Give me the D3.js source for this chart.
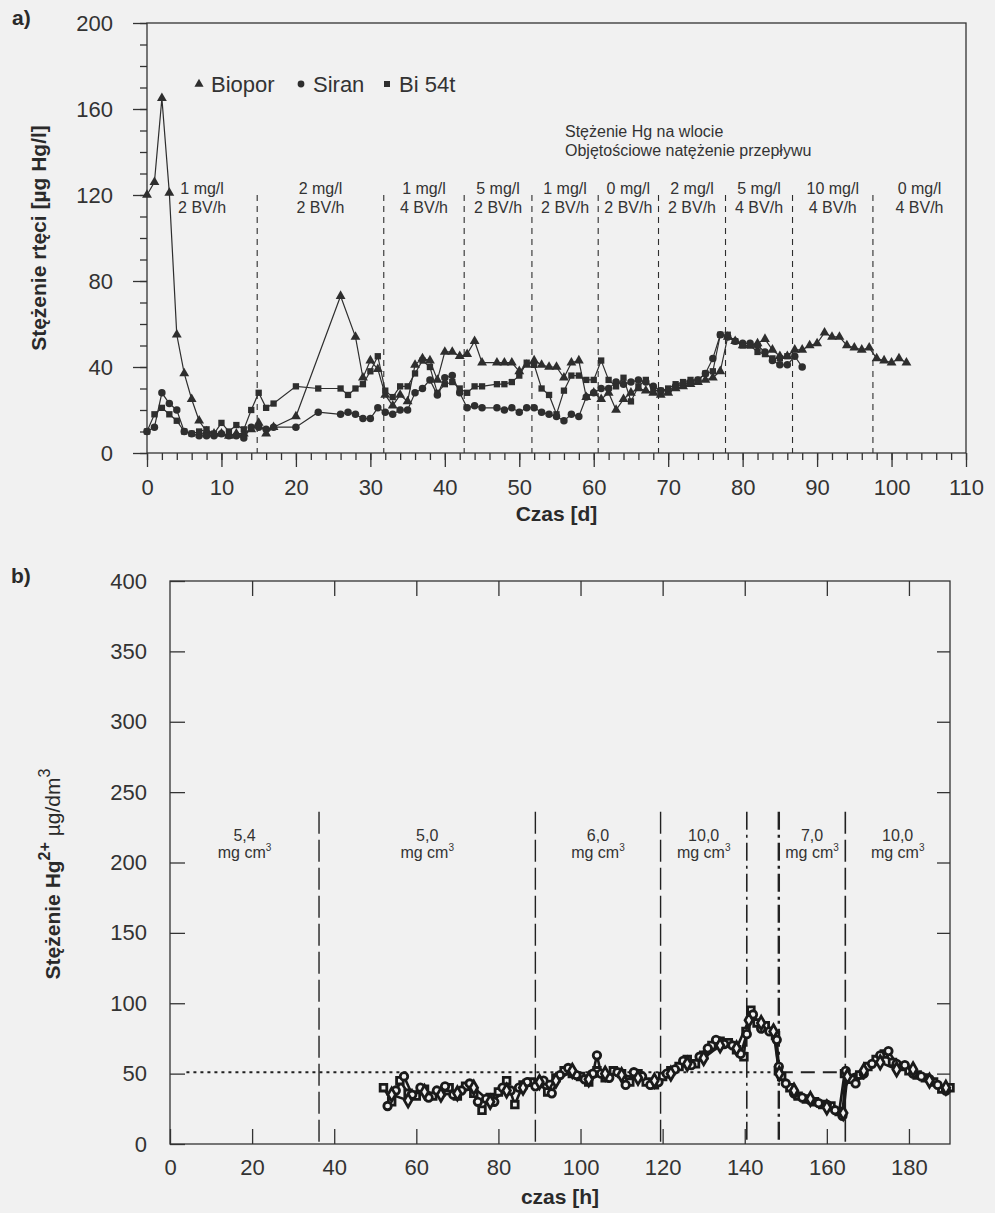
<!DOCTYPE html>
<html>
<head>
<meta charset="utf-8">
<script src="https://cdn.jsdelivr.net/npm/d3@7/dist/d3.min.js"></script>
<style>
  body { margin: 0; background: #f1f1f1; }
  svg { display: block; font-family: 'Liberation Sans', Arial, sans-serif; }
  .axis text { font-size: 22px; fill: #333; }
  .axis line { stroke: #333; stroke-width: 1.3; }
  .axis path { display: none; }
  .frame { fill: none; stroke: #333; stroke-width: 1.3; }
  .title { font-size: 21px; font-weight: bold; fill: #2a2a2a; }
  .note { font-size: 16px; fill: #333; }
</style>
</head>
<body>
<svg id="chart" width="995" height="1213"></svg>
<script>
// Panel a: day, Hg concentration [ug/l]
const bioporData = [
  [0, 120], [1, 126], [2, 165], [3, 121], [4, 55], [5, 37], [6, 25], [7, 15], [8, 10], [9, 9],
  [10, 9], [11, 8], [12, 9], [13, 9], [14, 11], [15, 14], [16, 9], [17, 12], [20, 17], [26, 73],
  [28, 54], [29, 35], [30, 43], [31, 39], [32, 27], [33, 22], [34, 27], [35, 24], [36, 41], [37, 44],
  [38, 43], [39, 34], [40, 47], [41, 47], [42, 45], [43, 46], [44, 52], [45, 42], [47, 42], [48, 42],
  [49, 42], [50, 38], [51, 41], [52, 43], [53, 41], [54, 40], [55, 40], [56, 35], [57, 42], [58, 43],
  [59, 26], [60, 28], [61, 25], [62, 28], [63, 20], [64, 25], [65, 28], [66, 30], [67, 29], [68, 28],
  [69, 27], [70, 28], [71, 30], [72, 31], [73, 32], [74, 33], [75, 34], [76, 35], [77, 38], [78, 54],
  [79, 52], [80, 50], [81, 50], [82, 51], [83, 53], [84, 48], [85, 45], [86, 45], [87, 48], [88, 48],
  [89, 50], [90, 51], [91, 56], [92, 54], [93, 54], [94, 50], [95, 49], [96, 48], [97, 49], [98, 44],
  [99, 43], [100, 42], [101, 44], [102, 42],
];
const siranData = [
  [0, 10], [1, 12], [2, 28], [3, 23], [4, 20], [5, 10], [6, 9], [7, 8], [8, 8], [9, 8],
  [10, 9], [11, 8], [12, 8], [13, 7], [14, 12], [15, 12], [16, 11], [17, 12], [20, 12], [23, 19],
  [26, 18], [27, 19], [28, 18], [29, 16], [30, 16], [31, 21], [32, 19], [33, 18], [34, 20], [35, 20],
  [36, 28], [37, 30], [38, 34], [39, 27], [40, 35], [41, 36], [42, 28], [43, 21], [44, 22], [45, 21],
  [47, 21], [48, 20], [49, 21], [50, 19], [51, 21], [52, 21], [53, 19], [54, 18], [55, 17], [56, 15],
  [57, 18], [58, 17], [59, 26], [60, 28], [61, 30], [62, 30], [63, 33], [64, 32], [65, 33], [66, 34],
  [67, 33], [68, 31], [69, 29], [70, 29], [71, 31], [72, 32], [73, 33], [74, 34], [75, 37], [76, 44],
  [77, 55], [78, 54], [79, 52], [80, 51], [81, 51], [82, 50], [83, 47], [84, 43], [85, 41], [86, 41],
  [87, 45], [88, 40],
];
const bi54tData = [
  [0, 10], [1, 18], [2, 21], [3, 18], [4, 15], [5, 10], [6, 9], [7, 10], [8, 11], [9, 9],
  [10, 14], [11, 10], [12, 13], [13, 11], [14, 20], [15, 28], [16, 21], [17, 23], [20, 31], [23, 30],
  [26, 30], [27, 27], [28, 30], [29, 32], [30, 38], [31, 45], [32, 29], [33, 26], [34, 31], [35, 31],
  [36, 37], [37, 43], [38, 40], [39, 28], [40, 32], [41, 33], [42, 30], [43, 28], [44, 31], [45, 31],
  [47, 32], [48, 32], [49, 33], [50, 36], [51, 42], [52, 41], [53, 30], [54, 27], [55, 18], [56, 29],
  [57, 36], [58, 36], [59, 34], [60, 34], [61, 43], [62, 34], [63, 31], [64, 35], [65, 24], [66, 31],
  [67, 34], [68, 29], [69, 29], [70, 30], [71, 32], [72, 33], [73, 34], [74, 34], [75, 37], [76, 38],
  [77, 55], [78, 55], [79, 52], [80, 50], [81, 50], [82, 47], [83, 46], [84, 44], [85, 44], [86, 45],
];
const legendA = ['Biopor', 'Siran', 'Bi 54t'];
const phaseBreaksA = [14.8, 31.8, 42.6, 51.7, 60.6, 68.7, 77.7, 86.7, 97.5];
const phaseLabelsA = [
  ['1 mg/l', '2 BV/h'], ['2 mg/l', '2 BV/h'], ['1 mg/l', '4 BV/h'], ['5 mg/l', '2 BV/h'],
  ['1 mg/l', '2 BV/h'], ['0 mg/l', '2 BV/h'], ['2 mg/l', '2 BV/h'], ['5 mg/l', '4 BV/h'],
  ['10 mg/l', '4 BV/h'], ['0 mg/l', '4 BV/h'],
];
const noteA = ['Stężenie Hg na wlocie', 'Objętościowe natężenie przepływu'];

// Panel b: hour, Hg2+ concentration [ug/dm3]
const squaresB = [
  [52, 40], [54, 30], [56, 45], [58, 36], [60, 34], [62, 39], [64, 34], [66, 37], [68, 40], [70, 34],
  [72, 41], [74, 36], [76, 24], [78, 33], [80, 37], [82, 45], [84, 28], [86, 42], [88, 44], [90, 43],
  [92, 37], [94, 47], [96, 52], [98, 50], [100, 48], [102, 44], [104, 52], [106, 47], [108, 52], [110, 50],
  [112, 44], [114, 50], [116, 44], [118, 42], [120, 48], [122, 52], [124, 55], [126, 60], [128, 57], [130, 63],
  [132, 70], [134, 73], [136, 72], [138, 67], [139.8, 62], [140.3, 80], [141.5, 95], [143, 86], [145, 84], [147.5, 77],
  [148.2, 52], [149, 48], [151, 40], [153, 34], [155, 32], [157, 30], [159, 28], [161, 27], [163, 23], [164.3, 50],
  [166, 46], [168, 49], [170, 55], [172, 60], [174, 64], [176, 58], [178, 55], [180, 52], [182, 49], [184, 47],
  [186, 44], [188, 39], [190, 40],
];
const circlesB = [
  [53, 27], [55, 38], [57, 48], [59, 35], [61, 40], [63, 33], [65, 38], [67, 41], [69, 35], [71, 38],
  [73, 43], [75, 30], [77, 32], [79, 30], [81, 40], [83, 38], [85, 40], [87, 44], [89, 41], [91, 45],
  [93, 36], [95, 49], [97, 54], [99, 49], [101, 46], [103, 50], [104, 63], [105, 50], [107, 47], [109, 51],
  [111, 42], [113, 51], [115, 48], [117, 42], [119, 44], [121, 50], [123, 53], [125, 59], [127, 56], [129, 62],
  [131, 68], [133, 74], [135, 71], [137, 70], [139, 64], [140.5, 78], [142, 92], [144, 82], [146, 80], [147.8, 74],
  [148.3, 55], [150, 43], [152, 36], [154, 33], [156, 31], [158, 29], [160, 28], [162, 24], [163.8, 20], [164.6, 52],
  [167, 43], [169, 50], [171, 57], [173, 63], [175, 66], [177, 57], [179, 56], [181, 50], [183, 48], [185, 46],
  [187, 42], [189, 38],
];
const diamondsB = [
  [54, 35], [58, 31], [62, 37], [66, 35], [70, 36], [74, 40], [78, 30], [82, 38], [86, 40], [90, 44],
  [94, 45], [98, 52], [102, 46], [106, 50], [110, 49], [114, 47], [118, 45], [122, 50], [126, 57], [130, 61],
  [134, 70], [138, 68], [141, 88], [144, 86], [147, 80], [148.4, 50], [152, 38], [156, 32], [160, 26], [164, 22],
  [165, 48], [169, 52], [173, 58], [177, 53], [181, 53], [185, 45], [189, 40],
];
const inletDotted = [[4, 51], [148.3, 51]];
const inletDashed = [[148.3, 51], [165, 51]];
const phaseBreaksB = [36.3, 89, 119.5, 140.5, 148.3, 164.5];
const phaseLabelsB = ['5,4', '5,0', '6,0', '10,0', '', '7,0', '10,0'];

const svg = d3.select('#chart');
const ink = '#2e2e2e';
const paper = '#f1f1f1';

svg.append('rect').attr('width', 995).attr('height', 1213).attr('fill', paper);

/**
 * Panel a - three carriers, Hg in effluent over days
 */
function drawPanelA() {
  const xA = d3.scaleLinear().domain([0, 110]).range([147, 966]);
  const yA = d3.scaleLinear().domain([0, 200]).range([453, 23]);
  const g = svg.append('g').attr('class', 'panel-a');

  // minor and major ticks on the left
  g.append('g').attr('class', 'axis')
    .attr('transform', `translate(${xA(0)},0)`)
    .call(d3.axisLeft(yA).tickValues(d3.range(0, 201, 10)).tickSize(7).tickFormat(''));
  g.append('g').attr('class', 'axis')
    .attr('transform', `translate(${xA(0)},0)`)
    .call(d3.axisLeft(yA).tickValues(d3.range(0, 201, 40)).tickSize(14).tickPadding(20));

  // minor and major ticks at the bottom
  g.append('g').attr('class', 'axis')
    .attr('transform', `translate(0,${yA(0)})`)
    .call(d3.axisBottom(xA).tickValues(d3.range(0, 111, 2)).tickSize(7).tickFormat(''));
  g.append('g').attr('class', 'axis')
    .attr('transform', `translate(0,${yA(0)})`)
    .call(d3.axisBottom(xA).tickValues(d3.range(0, 111, 10)).tickSize(14).tickPadding(12));

  g.append('rect').attr('class', 'frame')
    .attr('x', xA(0)).attr('y', yA(200))
    .attr('width', xA(110) - xA(0)).attr('height', yA(0) - yA(200));

  // phase separators and their labels
  g.selectAll('line.phase')
    .data(phaseBreaksA)
    .enter().append('line')
    .attr('class', 'phase')
    .attr('x1', (d) => xA(d)).attr('x2', (d) => xA(d))
    .attr('y1', yA(120)).attr('y2', yA(0))
    .attr('stroke', ink).attr('stroke-width', 1.1)
    .attr('stroke-dasharray', '6,5');

  const edges = [0, ...phaseBreaksA, 110];
  const labels = g.selectAll('text.phase')
    .data(phaseLabelsA)
    .enter().append('text')
    .attr('class', 'note phase')
    .attr('text-anchor', 'middle');
  labels.append('tspan')
    .attr('x', (_, i) => xA((edges[i] + edges[i + 1]) / 2))
    .attr('y', 194)
    .text((d) => d[0]);
  labels.append('tspan')
    .attr('x', (_, i) => xA((edges[i] + edges[i + 1]) / 2))
    .attr('y', 213)
    .text((d) => d[1]);

  g.selectAll('text.inlet')
    .data(noteA)
    .enter().append('text')
    .attr('class', 'note inlet')
    .attr('x', 565)
    .attr('y', (_, i) => 137 + i * 19)
    .text((d) => d);

  // series
  const line = d3.line().x((d) => xA(d[0])).y((d) => yA(d[1]));
  const series = [
    { data: bioporData, symbol: d3.symbolTriangle, size: 42 },
    { data: siranData, symbol: d3.symbolCircle, size: 44 },
    { data: bi54tData, symbol: d3.symbolSquare, size: 40 },
  ];
  series.forEach((s) => {
    g.append('path')
      .attr('d', line(s.data))
      .attr('fill', 'none').attr('stroke', ink).attr('stroke-width', 1.2);
    g.append('g').selectAll('path')
      .data(s.data)
      .enter().append('path')
      .attr('transform', (d) => `translate(${xA(d[0])},${yA(d[1])})`)
      .attr('d', d3.symbol(s.symbol, s.size))
      .attr('fill', ink);
  });

  // legend
  const legendSymbols = [d3.symbolTriangle, d3.symbolCircle, d3.symbolSquare];
  const legendX = [199, 301, 387];
  const legend = g.selectAll('g.legend')
    .data(legendA)
    .enter().append('g')
    .attr('class', 'legend')
    .attr('transform', (_, i) => `translate(${legendX[i]},84)`);
  legend.append('path')
    .attr('d', (_, i) => d3.symbol(legendSymbols[i], 36)())
    .attr('fill', ink);
  legend.append('text')
    .attr('x', 12).attr('y', 8)
    .attr('font-size', 22).attr('fill', '#333')
    .text((d) => d);

  // titles
  svg.append('text').attr('class', 'title').attr('x', 12).attr('y', 25).text('a)');
  svg.append('text').attr('class', 'title')
    .attr('text-anchor', 'middle')
    .attr('x', xA(55)).attr('y', 521)
    .text('Czas [d]');
  svg.append('text').attr('class', 'title')
    .attr('text-anchor', 'middle')
    .attr('transform', `translate(46,${yA(100)}) rotate(-90)`)
    .text('Stężenie rtęci [µg Hg/l]');
}

/**
 * Panel b - Hg2+ in effluent over hours
 */
function drawPanelB() {
  const xB = d3.scaleLinear().domain([0, 190]).range([170, 950]);
  const yB = d3.scaleLinear().domain([0, 400]).range([1144, 581]);
  const g = svg.append('g').attr('class', 'panel-b');

  // inward ticks on all four sides
  g.append('g').attr('class', 'axis')
    .attr('transform', `translate(0,${yB(0)})`)
    .call(d3.axisBottom(xB).tickValues(d3.range(0, 181, 20)).tickSize(-15).tickPadding(15));
  g.append('g').attr('class', 'axis')
    .attr('transform', `translate(0,${yB(400)})`)
    .call(d3.axisTop(xB).tickValues(d3.range(20, 181, 20)).tickSize(-15).tickFormat(''));
  g.append('g').attr('class', 'axis')
    .attr('transform', `translate(${xB(0)},0)`)
    .call(d3.axisLeft(yB).tickValues(d3.range(0, 401, 50)).tickSize(-15).tickPadding(23));
  g.append('g').attr('class', 'axis')
    .attr('transform', `translate(${xB(190)},0)`)
    .call(d3.axisRight(yB).tickValues(d3.range(50, 351, 50)).tickSize(-13).tickFormat(''));

  g.append('rect').attr('class', 'frame')
    .attr('x', xB(0)).attr('y', yB(400))
    .attr('width', xB(190) - xB(0)).attr('height', yB(0) - yB(400));

  // phase separators
  const phaseDash = ['22,6', '22,6', '22,6', '18,5,3,5', '18,5,3,5', '22,6'];
  const phaseWidth = [1.4, 1.4, 1.4, 1.6, 2.4, 1.6];
  g.selectAll('line.phase')
    .data(phaseBreaksB)
    .enter().append('line')
    .attr('class', 'phase')
    .attr('x1', (d) => xB(d)).attr('x2', (d) => xB(d))
    .attr('y1', yB(236)).attr('y2', yB(0))
    .attr('stroke', '#222')
    .attr('stroke-width', (_, i) => phaseWidth[i])
    .attr('stroke-dasharray', (_, i) => phaseDash[i]);

  // dose labels, one per phase (the short phase at 140-148 h has none)
  const edges = [0, ...phaseBreaksB, 190];
  phaseLabelsB.forEach((label, i) => {
    if (!label) return;
    const cx = xB((edges[i] + edges[i + 1]) / 2);
    g.append('text').attr('class', 'note')
      .attr('text-anchor', 'middle')
      .attr('x', cx).attr('y', 841)
      .text(label);
    const unit = g.append('text').attr('class', 'note')
      .attr('text-anchor', 'middle')
      .attr('font-size', 15)
      .attr('x', cx).attr('y', 858);
    unit.append('tspan').text('mg cm');
    unit.append('tspan').attr('font-size', 10).attr('dy', -7).text('3');
  });

  // inlet concentration reference
  const line = d3.line().x((d) => xB(d[0])).y((d) => yB(d[1]));
  g.append('path').attr('d', line(inletDotted))
    .attr('fill', 'none').attr('stroke', '#222').attr('stroke-width', 2)
    .attr('stroke-dasharray', '3,4');
  g.append('path').attr('d', line(inletDashed))
    .attr('fill', 'none').attr('stroke', '#222').attr('stroke-width', 2)
    .attr('stroke-dasharray', '14,8');

  // measured series, hollow markers with heavy outline
  const series = [
    { data: squaresB, symbol: d3.symbolSquare, size: 44 },
    { data: circlesB, symbol: d3.symbolCircle, size: 44 },
    { data: diamondsB, symbol: d3.symbolDiamond, size: 50 },
  ];
  series.forEach((s) => {
    g.append('path')
      .attr('d', line(s.data))
      .attr('fill', 'none').attr('stroke', '#1a1a1a').attr('stroke-width', 2.6);
  });
  series.forEach((s) => {
    g.append('g').selectAll('path')
      .data(s.data)
      .enter().append('path')
      .attr('transform', (d) => `translate(${xB(d[0])},${yB(d[1])})`)
      .attr('d', d3.symbol(s.symbol, s.size))
      .attr('fill', paper)
      .attr('stroke', '#1a1a1a').attr('stroke-width', 2.8);
  });

  // titles
  svg.append('text').attr('class', 'title').attr('x', 11).attr('y', 583).text('b)');
  svg.append('text').attr('class', 'title')
    .attr('text-anchor', 'middle')
    .attr('x', 560).attr('y', 1204)
    .text('czas [h]');
  const yTitle = svg.append('text').attr('class', 'title')
    .attr('font-size', 24)
    .attr('text-anchor', 'middle')
    .attr('transform', `translate(60,874) rotate(-90)`);
  yTitle.append('tspan').text('Stężenie Hg');
  yTitle.append('tspan').attr('font-size', 16).attr('dy', -10).text('2+');
  yTitle.append('tspan').attr('font-weight', 'normal').attr('dy', 10).text(' µg/dm');
  yTitle.append('tspan').attr('font-weight', 'normal').attr('font-size', 16).attr('dy', -10).text('3');
}

drawPanelA();
drawPanelB();
</script>
</body>
</html>
